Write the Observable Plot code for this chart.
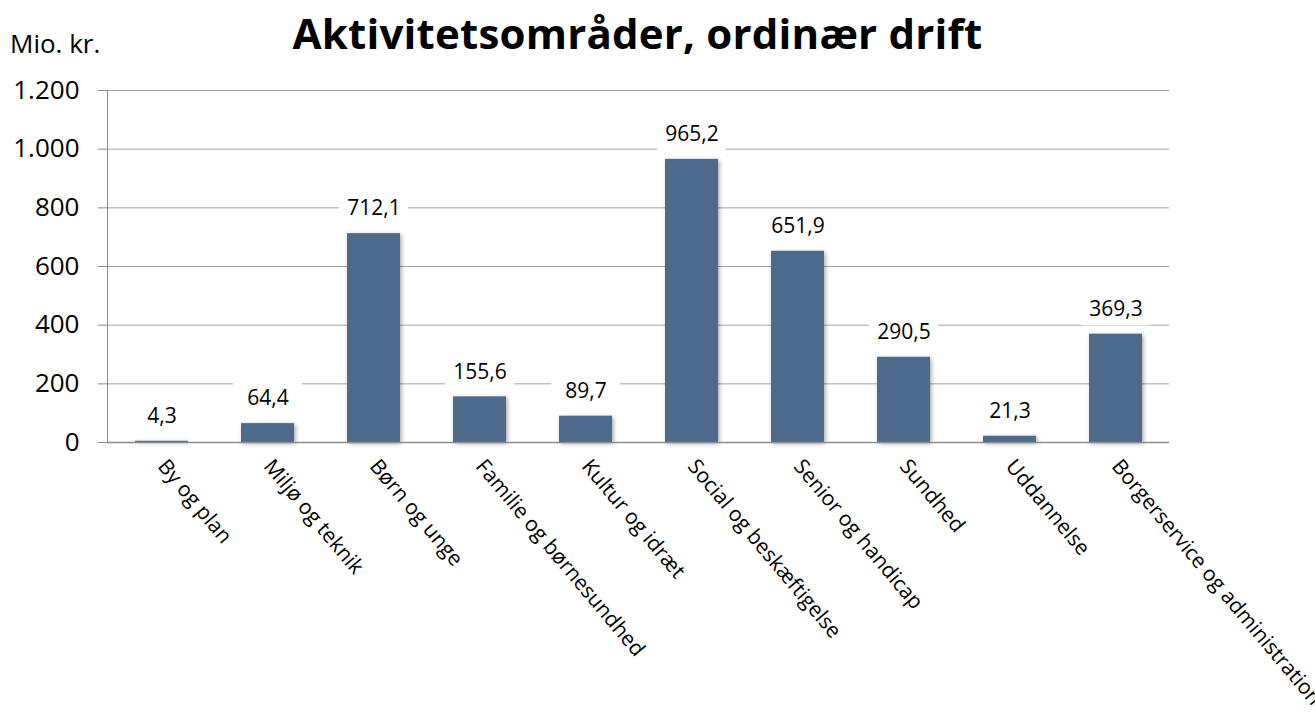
<!DOCTYPE html>
<html>
<head>
<meta charset="utf-8">
<script src="https://cdn.jsdelivr.net/npm/d3@7"></script>
<script src="https://cdn.jsdelivr.net/npm/@observablehq/plot@0.6"></script>
<style>
  html, body { margin: 0; padding: 0; background: white; }
  body { font-family: "Open Sans", sans-serif; color: #000; width: 1315px; height: 719px; overflow: hidden; }
  #head { position: relative; width: 1315px; height: 70px; }
  #title { position: absolute; left: 0; width: 1275px; top: 12px; text-align: center; font-size: 42px; line-height: 42px; font-weight: 700; letter-spacing: 0.2px; }
  #unit { position: absolute; left: 10px; top: 30px; font-size: 26px; line-height: 26px; }
  svg { display: block; overflow: visible; }
</style>
</head>
<body>
<div id="head">
  <div id="unit">Mio. kr.</div>
  <div id="title">Aktivitetsområder, ordinær drift</div>
</div>
<div id="chart"></div>
<script>
const categories = ["By og plan", "Miljø og teknik", "Børn og unge", "Familie og børnesundhed", "Kultur og idræt", "Social og beskæftigelse", "Senior og handicap", "Sundhed", "Uddannelse", "Borgerservice og administration"];
const values = [4.3, 64.4, 712.1, 155.6, 89.7, 965.2, 651.9, 290.5, 21.3, 369.3];
const yTicks = [0, 200, 400, 600, 800, 1000, 1200];

const locale = d3.formatLocale({decimal: ",", thousands: ".", grouping: [3], currency: ["", " kr."]});
const fmtTick = locale.format(",d");
const fmtVal = locale.format(",.1f");

const data = categories.map((c, i) => ({category: c, value: values[i]}));

const chart = Plot.plot({
  width: 1315,
  height: 649,
  marginTop: 20,
  marginBottom: 277,
  marginLeft: 107,
  marginRight: 146,
  style: {fontFamily: "Open Sans", background: "white", color: "#000", overflow: "visible"},
  x: {domain: categories, paddingInner: 0.5, paddingOuter: 0.25, axis: null},
  y: {domain: [0, 1200], axis: null},
  marks: [
    Plot.ruleY(yTicks.filter(t => t > 0), {stroke: "#a6a6a6", strokeWidth: 1}),
    // white label boxes that interrupt the gridlines
    Plot.tickY(data, {x: "category", y: "value", dy: -25, stroke: "white", strokeWidth: 32, insetLeft: -8, insetRight: -8}),
    Plot.axisY({ticks: yTicks, tickFormat: fmtTick, tickSize: 9, tickPadding: 19, fontSize: 26, stroke: "#8c8c8c", label: null}),
    Plot.frame({anchor: "left", stroke: "#8c8c8c"}),
    Plot.barY(data, {x: "category", y: "value", fill: "#4e6a8d"}),
    Plot.ruleY([0], {stroke: "#8c8c8c", strokeWidth: 1.5}),
    Plot.text(data, {x: "category", y: "value", text: d => fmtVal(d.value), dy: -25, fontSize: 21, fill: "#000"}),
    Plot.text(categories, {x: d => d, frameAnchor: "bottom", dy: 20, rotate: 50, textAnchor: "start", lineAnchor: "middle", fontSize: 21, fill: "#000"})
  ]
});

document.getElementById("chart").appendChild(chart);

// subtle drop shadow on bars
const ns = "http://www.w3.org/2000/svg";
const defs = document.createElementNS(ns, "defs");
defs.innerHTML = '<filter id="barShadow" x="-20%" y="-10%" width="150%" height="130%"><feDropShadow dx="1.5" dy="1.5" stdDeviation="2" flood-color="#000" flood-opacity="0.35"/></filter>';
chart.insertBefore(defs, chart.firstChild);
const bars = chart.querySelector('g[aria-label="bar"]');
if (bars) bars.setAttribute("filter", "url(#barShadow)");
</script>
</body>
</html>
